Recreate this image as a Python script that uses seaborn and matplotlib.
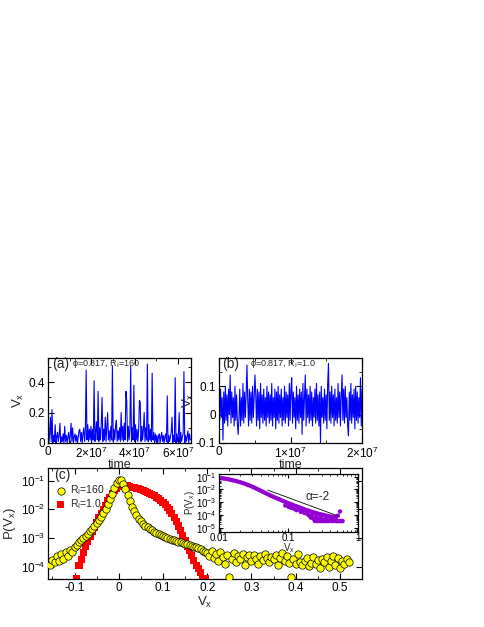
import numpy as np
import pandas as pd
import seaborn as sns
import matplotlib.pyplot as plt
import matplotlib.ticker as mticker

# ---- data ----
# (a) phi=0.817, R_I=160 : V_x time series, sampled evenly over 0..6.6e7
t_max_a = 6.6e7
vx_a = [0.04, 0.00, 0.06, 0.17, 0.01, 0.22, 0.00, 0.05, 0.01, 0.12, 0.00, 0.04, 0.07, 0.01, 0.05, 0.13, 0.00, 0.04, 0.01, 0.06,
        0.00, 0.11, 0.01, 0.05, 0.00, 0.04, 0.07, 0.00, 0.05, 0.13, 0.01, 0.10, 0.00, 0.04, 0.06, 0.01, 0.05, 0.00, 0.04, 0.08,
        0.09, 0.01, 0.07, 0.00, 0.06, 0.10, 0.01, 0.08, 0.48, 0.02, 0.12, 0.01, 0.09, 0.02, 0.11, 0.01, 0.09, 0.02, 0.41, 0.01,
        0.08, 0.14, 0.02, 0.34, 0.01, 0.10, 0.02, 0.12, 0.30, 0.01, 0.09, 0.02, 0.17, 0.01, 0.10, 0.20, 0.02, 0.08, 0.01, 0.11,
        0.02, 0.51, 0.01, 0.09, 0.02, 0.11, 0.15, 0.01, 0.08, 0.02, 0.10, 0.01, 0.20, 0.02, 0.11, 0.01, 0.13, 0.02, 0.34, 0.28,
        0.01, 0.11, 0.02, 0.09, 0.51, 0.01, 0.10, 0.02, 0.38, 0.01, 0.12, 0.02, 0.09, 0.01, 0.08, 0.28, 0.27, 0.01, 0.11, 0.02,
        0.09, 0.20, 0.01, 0.10, 0.02, 0.52, 0.01, 0.12, 0.02, 0.09, 0.01, 0.46, 0.02, 0.07, 0.00, 0.06, 0.01, 0.05, 0.00, 0.04,
        0.06, 0.00, 0.04, 0.07, 0.01, 0.05, 0.00, 0.04, 0.06, 0.01, 0.31, 0.00, 0.05, 0.01, 0.04, 0.07, 0.17, 0.00, 0.05, 0.01,
        0.43, 0.00, 0.06, 0.01, 0.05, 0.20, 0.00, 0.07, 0.01, 0.04, 0.06, 0.47, 0.00, 0.05, 0.01, 0.04, 0.08, 0.00, 0.06, 0.02]

# (b) phi=0.817, R_I=1.0 : V_x time series, sampled evenly over 0..2e7
t_max_b = 2.0e7
vx_b = [0.07, -0.02, 0.09, -0.01, 0.06, -0.09, 0.08, -0.03, 0.10, -0.02, 0.07, -0.04, 0.09, 0.00, 0.14, -0.03, 0.08, -0.01, 0.06, -0.04,
        0.10, -0.02, 0.07, -0.03, -0.07, -0.01, 0.09, -0.04, 0.06, -0.02, 0.11, -0.03, 0.08, -0.01, 0.07, 0.175, 0.05, -0.04, 0.09, -0.02,
        0.08, -0.03, 0.10, -0.01, 0.06, 0.14, 0.07, -0.04, 0.09, -0.02, 0.08, -0.05, 0.11, -0.01, 0.07, -0.03, 0.09, -0.02, 0.06, -0.04,
        0.10, -0.01, 0.08, -0.03, 0.07, -0.02, 0.11, -0.04, 0.06, -0.01, 0.09, -0.05, 0.08, -0.02, 0.10, -0.03, 0.07, -0.01, 0.09, -0.04,
        0.06, -0.02, 0.10, -0.03, 0.08, -0.01, 0.07, -0.04, 0.11, -0.02, 0.09, 0.13, -0.03, 0.08, -0.01, 0.06, -0.05, 0.10, -0.02, 0.07,
        -0.03, 0.09, -0.01, 0.08, -0.07, 0.11, -0.02, 0.06, 0.14, -0.04, 0.09, -0.01, 0.07, -0.03, 0.10, -0.02, 0.08, -0.04, 0.06, -0.01,
        0.09, -0.03, 0.11, -0.02, 0.07, -0.04, 0.08, -0.10, 0.10, -0.01, 0.06, -0.03, 0.09, -0.02, 0.07, -0.05, 0.11, 0.18, -0.02, 0.08,
        -0.03, 0.10, -0.01, 0.07, -0.04, 0.09, -0.02, 0.06, -0.03, 0.11, -0.01, 0.08, -0.04, 0.07, 0.14, -0.02, 0.09, -0.03, 0.10, -0.01,
        0.06, -0.04, -0.075, 0.08, -0.02, 0.11, -0.03, 0.07, -0.01, 0.09, -0.05, 0.10, -0.02, 0.08, -0.03, 0.06, -0.01, 0.13, -0.04, 0.09]

# (c) histograms, bin width 0.005 ; values are log10 P(V_x)
bins_160 = (-0.155, 0.52)
logp_160 = [-3.95, -3.78, -3.85, -3.62, -3.80, -3.55, -3.72, -3.50, -3.62, -3.42, -3.48, -3.30,
            -3.25, -3.15, -3.08, -3.00, -2.92, -2.85, -2.75, -2.68, -2.58, -2.48, -2.38, -2.25,
            -2.12, -1.98, -1.82, -1.65, -1.45, -1.25, -1.07, -0.97, -0.98, -1.10, -1.30, -1.50,
            -1.72, -1.90, -2.07, -2.20, -2.32, -2.42, -2.50, -2.57, -2.63, -2.68, -2.73, -2.78,
            -2.82, -2.87, -2.90, -2.94, -2.97, -3.00, -3.03, -3.06, -3.08, -3.10, -3.13, -3.15,
            -3.18, -3.20, -3.22, -3.25, -3.28, -3.30, -3.33, -3.36, -3.40, -3.44, -3.48, -3.52,
            -3.62, -3.45, -3.70, -3.55, -3.80, -3.50, -3.68, -3.90, -3.58, -4.38, -3.72, -3.52,
            -3.85, -3.62, -3.75, -3.55, -3.95, -3.68, -3.60, -3.80, -3.58, -3.72, -3.90, -3.62,
            -3.78, -3.55, -3.70, -3.85, -3.65, -3.75, -3.60, -3.95, -3.70, -3.52, -3.80, -3.62,
            -3.88, -4.38, -3.75, -3.92, -3.55, -3.85, -3.95, -3.80, -3.70, -3.98, -3.88, -3.65,
            -3.92, -3.78, -4.05, -3.72, -3.85, -3.68, -4.00, -3.80, -3.62, -3.95, -3.70, -4.05,
            -3.82, -3.90, -3.75, -3.85]

bins_1 = (-0.095, 0.195)
logp_1 = [-4.40, -3.95, -3.75, -3.50, -3.30, -3.12, -2.95, -2.78, -2.62, -2.45, -2.30, -2.15,
          -2.00, -1.85, -1.70, -1.57, -1.45, -1.35, -1.27, -1.20, -1.17, -1.16, -1.17, -1.18,
          -1.20, -1.22, -1.24, -1.26, -1.28, -1.31, -1.34, -1.37, -1.40, -1.44, -1.48, -1.52,
          -1.57, -1.62, -1.68, -1.75, -1.82, -1.92, -2.02, -2.14, -2.28, -2.42, -2.58, -2.75,
          -2.92, -3.10, -3.28, -3.45, -3.62, -3.80, -3.95, -4.05, -4.20, -4.40, -4.40]

# inset: P(|V_x|) on log-log axes, R_I=160
inset_x = [0.0100, 0.0107, 0.0115, 0.0123, 0.0132, 0.0141, 0.0151, 0.0162, 0.0174, 0.0186,
           0.0200, 0.0214, 0.0229, 0.0245, 0.0263, 0.0282, 0.0302, 0.0324, 0.0347, 0.0372,
           0.0398, 0.0427, 0.0457, 0.0490, 0.0525, 0.0562, 0.0603, 0.0646, 0.0692, 0.0741,
           0.0794, 0.0851, 0.0912, 0.0977, 0.105, 0.112, 0.120, 0.129, 0.138, 0.148,
           0.158, 0.170, 0.182, 0.195, 0.209, 0.224, 0.240, 0.257, 0.275, 0.295,
           0.316, 0.339, 0.363, 0.389, 0.417, 0.447, 0.479, 0.513, 0.550,
           0.090, 0.100, 0.110, 0.120, 0.130, 0.140, 0.150, 0.160, 0.170, 0.180,
           0.190, 0.200, 0.210, 0.220, 0.230, 0.240, 0.250, 0.260, 0.270, 0.280,
           0.290, 0.300, 0.310, 0.320, 0.340, 0.350, 0.360, 0.380, 0.400, 0.420,
           0.440, 0.460, 0.480, 0.500, 0.520, 0.550, 0.580, 0.600]
inset_logp = [-1.10, -1.12, -1.14, -1.16, -1.19, -1.22, -1.26, -1.30, -1.34, -1.38,
              -1.43, -1.48, -1.53, -1.59, -1.65, -1.72, -1.79, -1.86, -1.94, -2.02,
              -2.10, -2.18, -2.26, -2.34, -2.42, -2.50, -2.57, -2.64, -2.71, -2.78,
              -2.85, -2.92, -2.99, -3.06, -3.12, -3.18, -3.25, -3.31, -3.37, -3.43,
              -3.49, -3.55, -3.61, -3.66, -3.72, -3.77, -3.82, -3.87, -3.91, -3.95,
              -3.99, -4.03, -4.07, -4.10, -4.13, -4.16, -4.18, -4.05, -3.72,
              -3.25, -3.35, -3.45, -3.50, -3.62, -3.55, -3.75, -3.70, -3.85, -3.80,
              -3.95, -4.05, -4.20, -4.00, -4.30, -4.47, -4.15, -4.47, -4.30, -4.47,
              -4.20, -4.47, -4.35, -4.47, -4.47, -4.25, -4.47, -4.47, -4.35, -4.47,
              -4.47, -4.30, -4.47, -4.47, -4.47, -4.47, -4.47, -4.47]
slope_x = [0.05, 0.5]
slope_p = [9.0e-3, 9.0e-5]

ticks_a = [0, 2e7, 4e7, 6e7]
ticklabels_a = ['0', '2×10$^{7}$', '4×10$^{7}$', '6×10$^{7}$']
ticks_b = [0, 1e7, 2e7]
ticklabels_b = ['0', '1×10$^{7}$', '2×10$^{7}$']

# ---- build frames ----
df_a = pd.DataFrame({'t': np.arange(len(vx_a)) * t_max_a / len(vx_a), 'vx': vx_a})
df_b = pd.DataFrame({'t': np.arange(len(vx_b)) * t_max_b / (len(vx_b) - 1), 'vx': vx_b})
df_160 = pd.DataFrame({'vx': np.linspace(bins_160[0], bins_160[1], len(logp_160)),
                       'p': 10.0 ** np.array(logp_160)})
df_1 = pd.DataFrame({'vx': np.linspace(bins_1[0], bins_1[1], len(logp_1)),
                     'p': 10.0 ** np.array(logp_1)})
df_in = pd.DataFrame({'vx': inset_x, 'p': 10.0 ** np.array(inset_logp)})

# ---- style ----
sns.set_style("ticks", {"xtick.direction": "in", "ytick.direction": "in",
                        "axes.edgecolor": "black", "xtick.color": "black", "ytick.color": "black"})
plt.rcParams['font.family'] = ['Liberation Sans', 'DejaVu Sans']
plt.rcParams['mathtext.fontset'] = 'custom'
plt.rcParams['mathtext.rm'] = 'Liberation Sans'
plt.rcParams['mathtext.it'] = 'Liberation Sans:italic'
plt.rcParams['mathtext.bf'] = 'Liberation Sans:bold'
plt.rcParams['axes.linewidth'] = 0.9

fig = plt.figure(figsize=(4.85, 6.27), dpi=100)
ax_c = fig.add_axes([0.099, 0.0766, 0.6474, 0.177])
ax_c.patch.set_alpha(0)
ax_a = fig.add_axes([0.099, 0.2935, 0.295, 0.1356])
ax_b = fig.add_axes([0.4515, 0.2935, 0.295, 0.1356])
ax_in = fig.add_axes([0.4515, 0.152, 0.2866, 0.0925], zorder=5)


def tick_style(ax, size=8.5):
    ax.tick_params(which='both', direction='in', top=True, right=True, labelsize=size, pad=2)
    ax.tick_params(which='major', length=4, width=0.8)
    ax.tick_params(which='minor', length=2, width=0.6)


lab = 'V$_\\mathregular{x}$'

# (a)
sns.lineplot(data=df_a, x='t', y='vx', ax=ax_a, color='blue', linewidth=0.8, estimator=None, sort=False)
ax_a.set_xlim(0, t_max_a)
ax_a.set_ylim(0, 0.56)
ax_a.set_xticks(ticks_a)
ax_a.set_xticklabels(ticklabels_a)
ax_a.xaxis.set_minor_locator(mticker.MultipleLocator(1e7))
ax_a.set_yticks([0, 0.2, 0.4])
ax_a.set_yticklabels(['0', '0.2', '0.4'])
ax_a.yaxis.set_minor_locator(mticker.MultipleLocator(0.1))
tick_style(ax_a)
ax_a.set_xlabel('time', fontsize=9, labelpad=-1.5)
ax_a.set_ylabel(lab, fontsize=9.5, labelpad=2)
ax_a.text(0.03, 0.93, '(a)', transform=ax_a.transAxes, fontsize=10, va='center', zorder=1)
ax_a.text(0.17, 0.94, 'ϕ=0.817, R$_\\mathregular{I}$=160', transform=ax_a.transAxes,
          fontsize=6.5, va='center', zorder=1)

# (b)
sns.lineplot(data=df_b, x='t', y='vx', ax=ax_b, color='blue', linewidth=0.8, estimator=None, sort=False)
ax_b.set_xlim(0, t_max_b)
ax_b.set_ylim(-0.1, 0.2)
ax_b.set_xticks(ticks_b)
ax_b.set_xticklabels(ticklabels_b)
ax_b.xaxis.set_minor_locator(mticker.MultipleLocator(0.5e7))
ax_b.set_yticks([-0.1, 0, 0.1])
ax_b.set_yticklabels(['-0.1', '0', '0.1'])
ax_b.yaxis.set_minor_locator(mticker.MultipleLocator(0.05))
tick_style(ax_b)
ax_b.set_xlabel('time', fontsize=9, labelpad=-1.5)
ax_b.set_ylabel(lab, fontsize=9.5, labelpad=0)
ax_b.text(0.02, 0.93, '(b)', transform=ax_b.transAxes, fontsize=10, va='center', zorder=1)
ax_b.text(0.22, 0.94, 'ϕ=0.817, R$_\\mathregular{I}$=1.0', transform=ax_b.transAxes,
          fontsize=6.5, va='center', zorder=1)

# (c)
sns.scatterplot(data=df_1, x='vx', y='p', ax=ax_c, marker='s', color='#ff0000', s=26,
                edgecolor='none', linewidth=0, label='R$_\\mathregular{I}$=1.0', zorder=2)
sns.scatterplot(data=df_160, x='vx', y='p', ax=ax_c, marker='o', color='#ffff00', s=28,
                edgecolor='black', linewidth=0.5, label='R$_\\mathregular{I}$=160', zorder=3)
ax_c.set_yscale('log')
ax_c.set_xlim(-0.16, 0.55)
ax_c.set_ylim(3.7e-5, 0.28)
ax_c.set_xticks([-0.1, 0, 0.1, 0.2, 0.3, 0.4, 0.5])
ax_c.set_xticklabels(['-0.1', '0', '0.1', '0.2', '0.3', '0.4', '0.5'])
ax_c.xaxis.set_minor_locator(mticker.MultipleLocator(0.05))
ax_c.set_yticks([1e-4, 1e-3, 1e-2, 1e-1])
ax_c.yaxis.set_minor_locator(mticker.NullLocator())
tick_style(ax_c)
ax_c.set_xlabel(lab, fontsize=9.5, labelpad=1)
ax_c.set_ylabel('P(V$_\\mathregular{x}$)', fontsize=9.5, labelpad=2)
ax_c.text(0.02, 0.94, '(c)', transform=ax_c.transAxes, fontsize=10, va='center')
handles, labels = ax_c.get_legend_handles_labels()
ax_c.legend([handles[1], handles[0]], [labels[1], labels[0]], loc='upper left',
            bbox_to_anchor=(0.0, 0.92), frameon=False, fontsize=7.5, handletextpad=0.3,
            borderaxespad=0.2, labelspacing=0.0, handlelength=1.2, handleheight=0.5)

# inset
sns.scatterplot(data=df_in, x='vx', y='p', ax=ax_in, color='#9400d3', s=10, edgecolor='none', linewidth=0)
sns.lineplot(x=slope_x, y=slope_p, ax=ax_in, color='black', linewidth=0.6)
ax_in.set_xscale('log')
ax_in.set_yscale('log')
ax_in.set_xlim(0.01, 1)
ax_in.set_ylim(5e-6, 0.17)
ax_in.set_xticks([0.01, 0.1, 1])
ax_in.set_xticklabels(['0.01', '0.1', '1'])
ax_in.set_yticks([1e-5, 1e-4, 1e-3, 1e-2, 1e-1])
ax_in.xaxis.set_minor_locator(mticker.LogLocator(base=10, subs=np.arange(2, 10), numticks=10))
ax_in.yaxis.set_minor_locator(mticker.LogLocator(base=10, subs=np.arange(2, 10), numticks=10))
ax_in.xaxis.set_minor_formatter(mticker.NullFormatter())
tick_style(ax_in, size=7)
ax_in.tick_params(which='major', length=3)
ax_in.tick_params(which='minor', length=1.5)
ax_in.tick_params(axis='x', pad=1)
ax_in.set_xlabel(lab, fontsize=7, labelpad=-1)
ax_in.set_ylabel('P(V$_\\mathregular{x}$)', fontsize=7, labelpad=-1)
ax_in.text(0.26, 10 ** -2.6, 'α=-2', fontsize=8.5, ha='center', va='center')

plt.savefig('out.png', dpi=100)
